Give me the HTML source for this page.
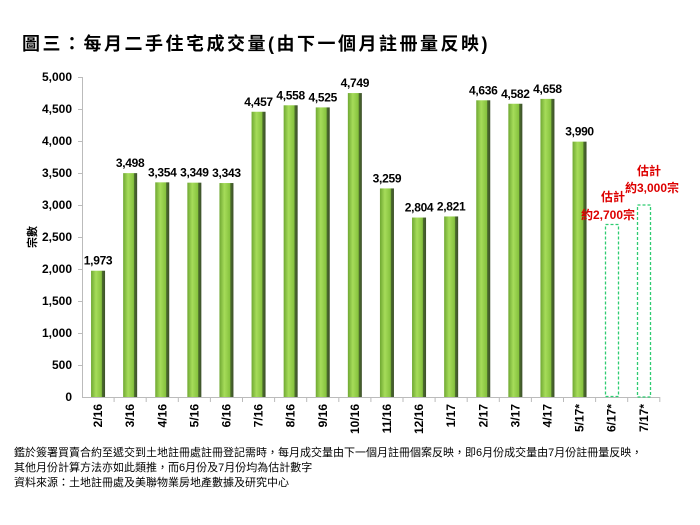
<!DOCTYPE html>
<html><head><meta charset="utf-8"><style>
body{margin:0;background:#fff;width:700px;height:525px;overflow:hidden;font-family:"Liberation Sans","Noto Sans CJK TC",sans-serif}
.t{position:absolute;left:22px;top:30px;font-size:18px;font-weight:bold;font-family:"Liberation Sans","Noto Sans CJK TC",sans-serif;letter-spacing:2.5px}
.n{position:absolute;left:14px;top:446px;font-size:11px;line-height:15px;color:#000}
</style></head><body>
<div class="t">圖三：每月二手住宅成交量(由下一個月註冊量反映)</div>
<svg width="700" height="525" style="position:absolute;left:0;top:0" font-family="Liberation Sans, Noto Sans CJK TC, sans-serif">
<defs><linearGradient id="g" x1="0" x2="1"><stop offset="0" stop-color="#6fa832"/><stop offset="0.35" stop-color="#a6dc5a"/><stop offset="0.75" stop-color="#86c23e"/><stop offset="0.8" stop-color="#4b6d2a"/><stop offset="1" stop-color="#3d4f2c"/></linearGradient></defs>
<g stroke="#bbb" stroke-width="1">
<line x1="82.5" y1="77" x2="82.5" y2="397"/>
<line x1="82" y1="397.5" x2="660" y2="397.5"/>
</g>
<g id="yt" font-size="12" font-weight="bold" text-anchor="end">
<text x="72" y="81">5,000</text><text x="72" y="113">4,500</text><text x="72" y="145">4,000</text><text x="72" y="177">3,500</text><text x="72" y="209">3,000</text><text x="72" y="241">2,500</text><text x="72" y="273">2,000</text><text x="72" y="305">1,500</text><text x="72" y="337">1,000</text><text x="72" y="369">500</text><text x="72" y="401">0</text>
</g>
<g stroke="#bbb"><line x1="78" y1="77.5" x2="82" y2="77.5"/><line x1="78" y1="109.5" x2="82" y2="109.5"/><line x1="78" y1="141.5" x2="82" y2="141.5"/><line x1="78" y1="173.5" x2="82" y2="173.5"/><line x1="78" y1="205.5" x2="82" y2="205.5"/><line x1="78" y1="237.5" x2="82" y2="237.5"/><line x1="78" y1="269.5" x2="82" y2="269.5"/><line x1="78" y1="301.5" x2="82" y2="301.5"/><line x1="78" y1="333.5" x2="82" y2="333.5"/><line x1="78" y1="365.5" x2="82" y2="365.5"/></g>
<text transform="translate(36,237) rotate(-90)" font-size="11" text-anchor="middle" font-weight="bold">宗數</text>
<g id="bars"></g>
<rect x="605.5" y="224.5" width="13" height="172" fill="none" stroke="#2ecc71" stroke-dasharray="3,2" stroke-width="1.3"/>
<rect x="637.5" y="205" width="13" height="192" fill="none" stroke="#2ecc71" stroke-dasharray="3,2" stroke-width="1.3"/>
<g fill="#d00" font-size="12" font-weight="bold" text-anchor="middle">
<text x="613" y="201">估計</text><text x="608" y="219">約2,700宗</text>
<text x="649" y="175">估計</text><text x="652" y="192">約3,000宗</text>
</g>
</svg>
<div class="n">鑑於簽署買賣合約至遞交到土地註冊處註冊登記需時，每月成交量由下一個月註冊個案反映，即6月份成交量由7月份註冊量反映，<br>其他月份計算方法亦如此類推，而6月份及7月份均為估計數字<br>資料來源：土地註冊處及美聯物業房地產數據及研究中心</div>
<script>
var v=[1973,3498,3354,3349,3343,4457,4558,4525,4749,3259,2804,2821,4636,4582,4658,3990];
var l=["2/16","3/16","4/16","5/16","6/16","7/16","8/16","9/16","10/16","11/16","12/16","1/17","2/17","3/17","4/17","5/17*","6/17*","7/17*"];
var s="";
for(var i=0;i<18;i++){var c=82+32.1*(i+0.5);
s+='<line x1="'+(82+32.1*(i+1))+'" y1="397" x2="'+(82+32.1*(i+1))+'" y2="402" stroke="#bbb"/>';
s+='<text transform="translate('+(c+4)+',404) rotate(-90)" font-size="12" font-weight="bold" text-anchor="end">'+l[i]+'</text>';
if(i<16){var h=v[i]*0.064,y=397-h;
s+='<rect x="'+(c-7)+'" y="'+y+'" width="14" height="'+h+'" fill="url(#g)"/>';
s+='<text x="'+c+'" y="'+(y-6)+'" font-size="12" font-weight="bold" text-anchor="middle" letter-spacing="-0.3">'+v[i].toLocaleString("en-US")+'</text>';}}
document.getElementById("bars").innerHTML=s;
</script>
</body></html>
